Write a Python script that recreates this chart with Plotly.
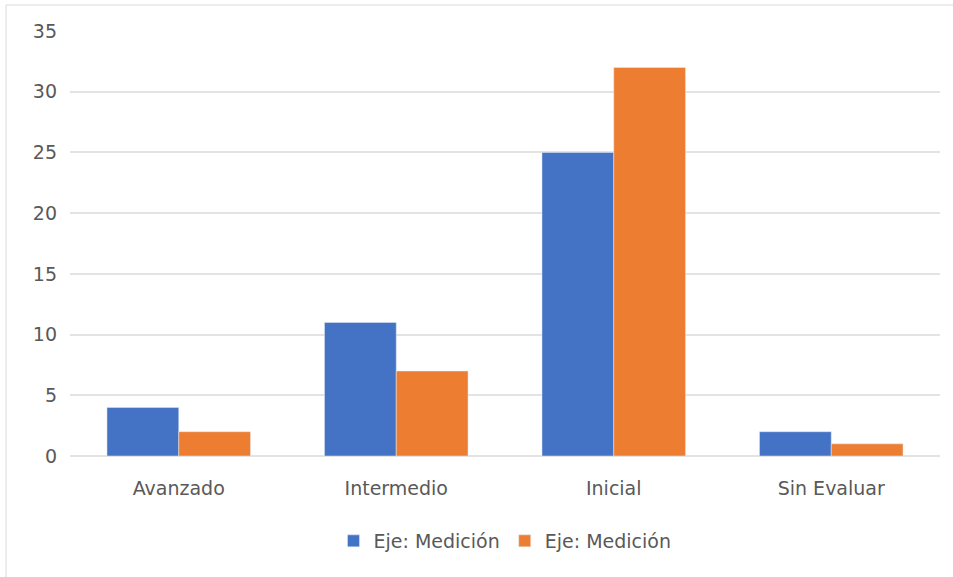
import plotly.graph_objects as go

categories = ["Avanzado", "Intermedio", "Inicial", "Sin Evaluar"]
serie1_name = "Eje: Medición"
serie2_name = "Eje: Medición"
serie1 = [4, 11, 25, 2]
serie2 = [2, 7, 32, 1]
y_ticks = [0, 5, 10, 15, 20, 25, 30, 35]

L, R, T, B = 70, 13, 31, 121
W, H = 953, 577
pw, ph = W - L - R, H - T - B

def px(x):
    return (x - L) / pw

def py(y):
    return (H - B - y) / ph

fig = go.Figure()
fig.add_trace(go.Bar(x=categories, y=serie1, name=serie1_name, marker_color="#4472C4"))
fig.add_trace(go.Bar(x=categories, y=serie2, name=serie2_name, marker_color="#ED7D31"))

fig.update_layout(
    width=W, height=H,
    margin=dict(l=L, r=R, t=T, b=B),
    paper_bgcolor="white", plot_bgcolor="white",
    barmode="group", bargap=0.34, bargroupgap=0,
    font=dict(family="DejaVu Sans, sans-serif", size=19, color="#595959"),
    xaxis=dict(showgrid=False, showline=False, ticks="", ticklabelstandoff=19,
               tickfont=dict(size=19, color="#595959")),
    yaxis=dict(range=[0, 35], tickvals=y_ticks, showgrid=True, gridcolor="#E3E3E3", gridwidth=1.5,
               zeroline=True, zerolinecolor="#E3E3E3", zerolinewidth=1.5,
               showline=False, ticks="", ticklabelstandoff=12, tickfont=dict(size=19, color="#595959")),
    legend=dict(orientation="h", x=0.5, xanchor="center", y=py(541), yanchor="middle",
                font=dict(size=19, color="#595959"), traceorder="normal"),
    showlegend=True,
    shapes=[
        dict(type="line", xref="paper", yref="paper", x0=px(6), x1=px(960), y0=py(5), y1=py(5),
             line=dict(color="#E6E6E6", width=1.5)),
        dict(type="line", xref="paper", yref="paper", x0=px(6), x1=px(6), y0=py(5), y1=py(590),
             line=dict(color="#E6E6E6", width=1.5)),
    ],
)

fig.write_html("out.html", config={"displayModeBar": False},
               post_script="document.body.style.margin='0';document.body.style.overflow='hidden';")
